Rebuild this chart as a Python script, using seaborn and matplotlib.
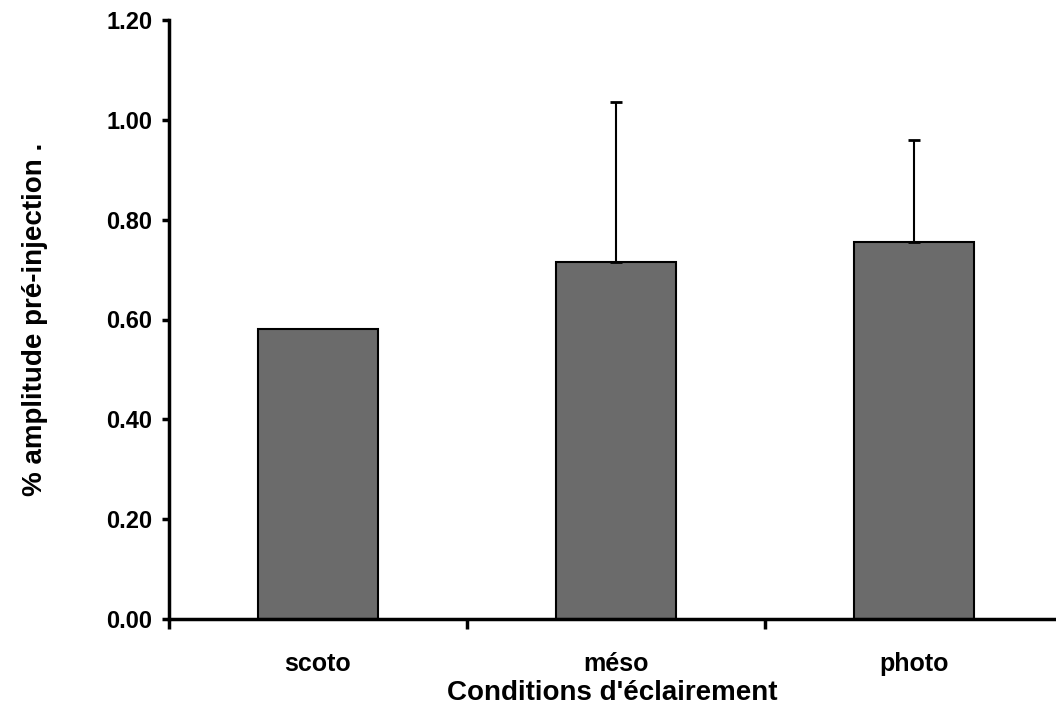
import matplotlib
matplotlib.use("Agg")
import matplotlib.pyplot as plt
import seaborn as sns
import numpy as np
import pandas as pd
from matplotlib.ticker import FixedLocator

conditions = ["scoto", "méso", "photo"]
amplitude = [0.58, 0.716, 0.755]
err_upper = [np.nan, 0.32, 0.205]
y_ticks = [0.0, 0.2, 0.4, 0.6, 0.8, 1.0, 1.2]

sns.set_theme(style="white")
plt.rcParams["font.family"] = ["Liberation Sans", "DejaVu Sans"]
plt.rcParams["text.color"] = "black"
plt.rcParams["axes.labelcolor"] = "black"
plt.rcParams["xtick.color"] = "black"
plt.rcParams["ytick.color"] = "black"

df = pd.DataFrame({"cond": conditions, "amp": amplitude})

fig = plt.figure(figsize=(10.56, 7.15), dpi=100)
ax = fig.add_axes([169 / 1056, 96 / 715, 1 - 169 / 1056, 599 / 715])

sns.barplot(
    data=df,
    x="cond",
    y="amp",
    color="#6b6b6b",
    saturation=1,
    width=0.40,
    edgecolor="black",
    linewidth=1.5,
    ax=ax
)

# one-sided error bars (upper only)
x_pos = np.arange(len(conditions))
err_lower = np.where(np.isnan(err_upper), np.nan, 0.0)
ax.errorbar(
    x_pos,
    amplitude,
    yerr=[err_lower, err_upper],
    fmt="none",
    ecolor="black",
    elinewidth=1.5,
    capsize=4,
    capthick=2
)

ax.set_ylim(0, 1.2)
ax.set_xlim(-0.5, 2.5 - 7 / 298)
ax.set_yticks(y_ticks)
ax.set_yticklabels([f"{v:.2f}" for v in y_ticks])

ax.xaxis.set_minor_locator(FixedLocator([-0.5, 0.5, 1.5]))
ax.tick_params(axis="x", which="major", length=0, pad=24, labelsize=18,
               labelcolor="black")
ax.tick_params(axis="x", which="minor", length=7, width=2.5, direction="out",
               color="black", bottom=True)
ax.tick_params(axis="y", length=5, width=2.5, direction="out", color="black",
               left=True, labelsize=17, pad=7, labelcolor="black")
for lab in ax.get_xticklabels() + ax.get_yticklabels():
    lab.set_fontweight("bold")

sns.despine(ax=ax)
for side in ["left", "bottom"]:
    ax.spines[side].set_linewidth(2.5)
    ax.spines[side].set_color("black")

ax.set_xlabel("Conditions d'éclairement", fontsize=20, fontweight="bold",
              labelpad=3, color="black")
ax.set_ylabel("% amplitude pré-injection .", fontsize=20, fontweight="bold",
              labelpad=42, color="black")

fig.savefig("out.png", dpi=100)
